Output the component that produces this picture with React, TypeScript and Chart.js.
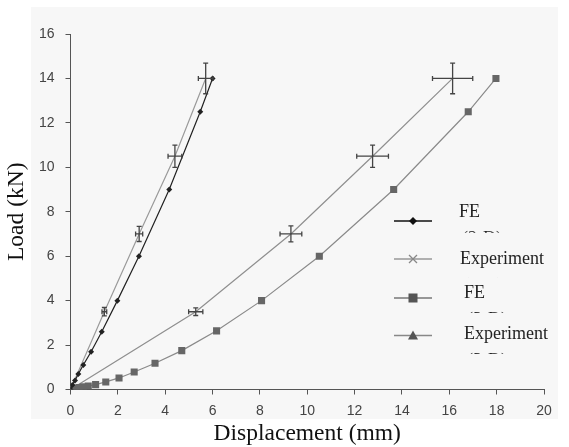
import { useEffect, useRef } from "react";
import { Chart, registerables } from "chart.js";
Chart.register(...registerables);

// FE series (small displacement)
const fe1X = [0, 0.08, 0.19, 0.33, 0.54, 0.87, 1.32, 1.98, 2.89, 4.17, 5.48, 6.0];
const fe1Y = [0, 0.2, 0.4, 0.7, 1.1, 1.7, 2.6, 4.0, 6.0, 9.0, 12.5, 14.0];
// Experiment series (small displacement)
const exp1X = [0, 1.43, 2.9, 4.41, 5.71];
const exp1Y = [0, 3.5, 7.0, 10.5, 14.0];
const exp1XErr = [0, 0.1, 0.15, 0.29, 0.31];
const exp1YErr = [0, 0.19, 0.34, 0.5, 0.69];
// FE series (large displacement)
const fe2X = [0, 0.05, 0.19, 0.36, 0.54, 0.75, 1.06, 1.49, 2.05, 2.69, 3.57, 4.7, 6.17, 8.07, 10.51, 13.65, 16.8, 17.97];
const fe2Y = [0, 0.03, 0.06, 0.09, 0.12, 0.16, 0.22, 0.34, 0.52, 0.79, 1.18, 1.75, 2.64, 4.0, 6.0, 9.0, 12.5, 14.0];
// Experiment series (large displacement)
const exp2X = [0, 5.29, 9.31, 12.76, 16.14];
const exp2Y = [0, 3.5, 7.0, 10.5, 14.0];
const exp2XErr = [0, 0.3, 0.46, 0.67, 0.85];
const exp2YErr = [0, 0.17, 0.36, 0.5, 0.69];

const legendLabels = ["FE", "Experiment", "FE", "Experiment"];
const legendSubLabels = ["(2-D)", "(2-D)", "(3-D)", "(3-D)"];

const toPts = (xs: number[], ys: number[]) => xs.map((x, i) => ({ x, y: ys[i] }));

const panelPlugin = {
  id: "panel",
  beforeDraw(chart: any) {
    const ctx = chart.ctx;
    ctx.save();
    ctx.fillStyle = "#f7f7f7";
    ctx.fillRect(31, 7, 527, 412);
    ctx.restore();
  },
};

const errorBarPlugin = {
  id: "errorBars",
  afterDatasetsDraw(chart: any) {
    const ctx = chart.ctx;
    const xs = chart.scales.x;
    const ys = chart.scales.y;
    ctx.save();
    ctx.strokeStyle = "#444";
    ctx.lineWidth = 1.3;
    chart.data.datasets.forEach((ds: any) => {
      if (!ds.xErr) return;
      ds.data.forEach((p: any, i: number) => {
        const ex = ds.xErr[i];
        const ey = ds.yErr[i];
        if (!ex && !ey) return;
        const cx = xs.getPixelForValue(p.x);
        const cy = ys.getPixelForValue(p.y);
        const x0 = xs.getPixelForValue(p.x - ex);
        const x1 = xs.getPixelForValue(p.x + ex);
        const y0 = ys.getPixelForValue(p.y - ey);
        const y1 = ys.getPixelForValue(p.y + ey);
        const cap = 2.5;
        ctx.beginPath();
        ctx.moveTo(x0, cy); ctx.lineTo(x1, cy);
        ctx.moveTo(x0, cy - cap); ctx.lineTo(x0, cy + cap);
        ctx.moveTo(x1, cy - cap); ctx.lineTo(x1, cy + cap);
        ctx.moveTo(cx, y0); ctx.lineTo(cx, y1);
        ctx.moveTo(cx - cap, y0); ctx.lineTo(cx + cap, y0);
        ctx.moveTo(cx - cap, y1); ctx.lineTo(cx + cap, y1);
        ctx.stroke();
      });
    });
    ctx.restore();
  },
};

const legendPlugin = {
  id: "customLegend",
  afterDraw(chart: any) {
    const ctx = chart.ctx;
    const rows = [
      { ly: 221, tx: 459, ty: 212.7, color: "#111", marker: "diamond", show: 3 },
      { ly: 259, tx: 460, ty: 259, color: "#999", marker: "cross", show: 1.5 },
      { ly: 298, tx: 464, ty: 293, color: "#777", marker: "square", show: 3 },
      { ly: 335.5, tx: 464, ty: 334, color: "#888", marker: "triangle", show: 3 },
    ];
    ctx.save();
    rows.forEach((r, i) => {
      ctx.strokeStyle = r.color;
      ctx.lineWidth = 1.3;
      ctx.beginPath();
      ctx.moveTo(394, r.ly);
      ctx.lineTo(432, r.ly);
      ctx.stroke();
      const mx = 413;
      ctx.fillStyle = r.marker === "diamond" ? "#111" : "#555";
      ctx.beginPath();
      if (r.marker === "diamond") {
        ctx.moveTo(mx, r.ly - 4); ctx.lineTo(mx + 4, r.ly); ctx.lineTo(mx, r.ly + 4); ctx.lineTo(mx - 4, r.ly);
        ctx.closePath(); ctx.fill();
      } else if (r.marker === "square") {
        ctx.fillRect(mx - 4.5, r.ly - 4.5, 9, 9);
      } else if (r.marker === "triangle") {
        ctx.moveTo(mx, r.ly - 5); ctx.lineTo(mx + 5, r.ly + 4); ctx.lineTo(mx - 5, r.ly + 4);
        ctx.closePath(); ctx.fill();
      } else {
        ctx.strokeStyle = "#888";
        ctx.moveTo(mx - 4, r.ly - 4); ctx.lineTo(mx + 4, r.ly + 4);
        ctx.moveTo(mx + 4, r.ly - 4); ctx.lineTo(mx - 4, r.ly + 4);
        ctx.stroke();
      }
      ctx.fillStyle = "#222";
      ctx.font = "18px 'Liberation Serif'";
      ctx.textBaseline = "middle";
      ctx.textAlign = "left";
      ctx.fillText(legendLabels[i], r.tx, r.ty);
      // second line, mostly hidden (only the top of the glyphs shows)
      ctx.save();
      ctx.beginPath();
      ctx.rect(r.tx - 5, r.ty + 17, 60, r.show);
      ctx.clip();
      ctx.fillText(legendSubLabels[i], r.tx + 3, r.ty + 27);
      ctx.restore();
    });
    ctx.restore();
  },
};

export default function App() {
  const ref = useRef<HTMLCanvasElement | null>(null);
  useEffect(() => {
    if (!ref.current) return;
    const tickFont = { family: "'Liberation Sans', Arial, sans-serif", size: 14 };
    const titleFont = { family: "'Liberation Serif', 'Times New Roman', serif", size: 23.5, lineHeight: 1.1 };
    const chart = new Chart(ref.current, {
      type: "scatter",
      data: {
        datasets: [
          {
            label: "FE",
            data: toPts(fe1X, fe1Y),
            showLine: true,
            borderColor: "#222",
            backgroundColor: "#222",
            borderWidth: 1.2,
            pointStyle: "rectRot",
            pointRadius: 3,
            pointBorderWidth: 0,
          },
          {
            label: "Experiment",
            data: toPts(exp1X, exp1Y),
            showLine: true,
            borderColor: "#9a9a9a",
            backgroundColor: "#9a9a9a",
            borderWidth: 1.2,
            pointRadius: 0,
            xErr: exp1XErr,
            yErr: exp1YErr,
          } as any,
          {
            label: "FE",
            data: toPts(fe2X, fe2Y),
            showLine: true,
            borderColor: "#8a8a8a",
            backgroundColor: "#666",
            borderWidth: 1.2,
            pointStyle: "rect",
            pointRadius: 5,
            pointBorderWidth: 0,
          },
          {
            label: "Experiment",
            data: toPts(exp2X, exp2Y),
            showLine: true,
            borderColor: "#8f8f8f",
            backgroundColor: "#8f8f8f",
            borderWidth: 1.2,
            pointRadius: 0,
            xErr: exp2XErr,
            yErr: exp2YErr,
          } as any,
        ],
      },
      options: {
        responsive: false,
        animation: false,
        layout: { padding: { top: 34, right: 25, left: 0, bottom: 0 } },
        plugins: { legend: { display: false }, tooltip: { enabled: false } },
        scales: {
          x: {
            type: "linear",
            min: 0,
            max: 20,
            ticks: { stepSize: 2, font: tickFont, color: "#444", padding: 8 },
            grid: { drawOnChartArea: false, tickLength: 5, color: "#555" },
            border: { color: "#555", width: 1 },
            title: { display: true, text: "Displacement (mm)", font: titleFont, color: "#111", padding: { top: 0, bottom: 0 } },
            afterFit: (s: any) => { s.height = 57.5; },
          },
          y: {
            type: "linear",
            min: 0,
            max: 16,
            ticks: { stepSize: 2, font: tickFont, color: "#444", padding: 11 },
            grid: { drawOnChartArea: false, tickLength: 5, color: "#555" },
            border: { color: "#555", width: 1 },
            title: { display: true, text: "Load (kN)", font: titleFont, color: "#111", padding: { top: 4, bottom: 0 } },
            afterFit: (s: any) => { s.width = 70.5; },
          },
        },
      } as any,
      plugins: [panelPlugin, errorBarPlugin, legendPlugin],
    });
    return () => chart.destroy();
  }, []);
  return (
    <div style={{ position: "absolute", left: 0, top: 0, width: 569, height: 447, background: "#fff" }}>
      <canvas ref={ref} width={569} height={447} style={{ display: "block" }} />
    </div>
  );
}
